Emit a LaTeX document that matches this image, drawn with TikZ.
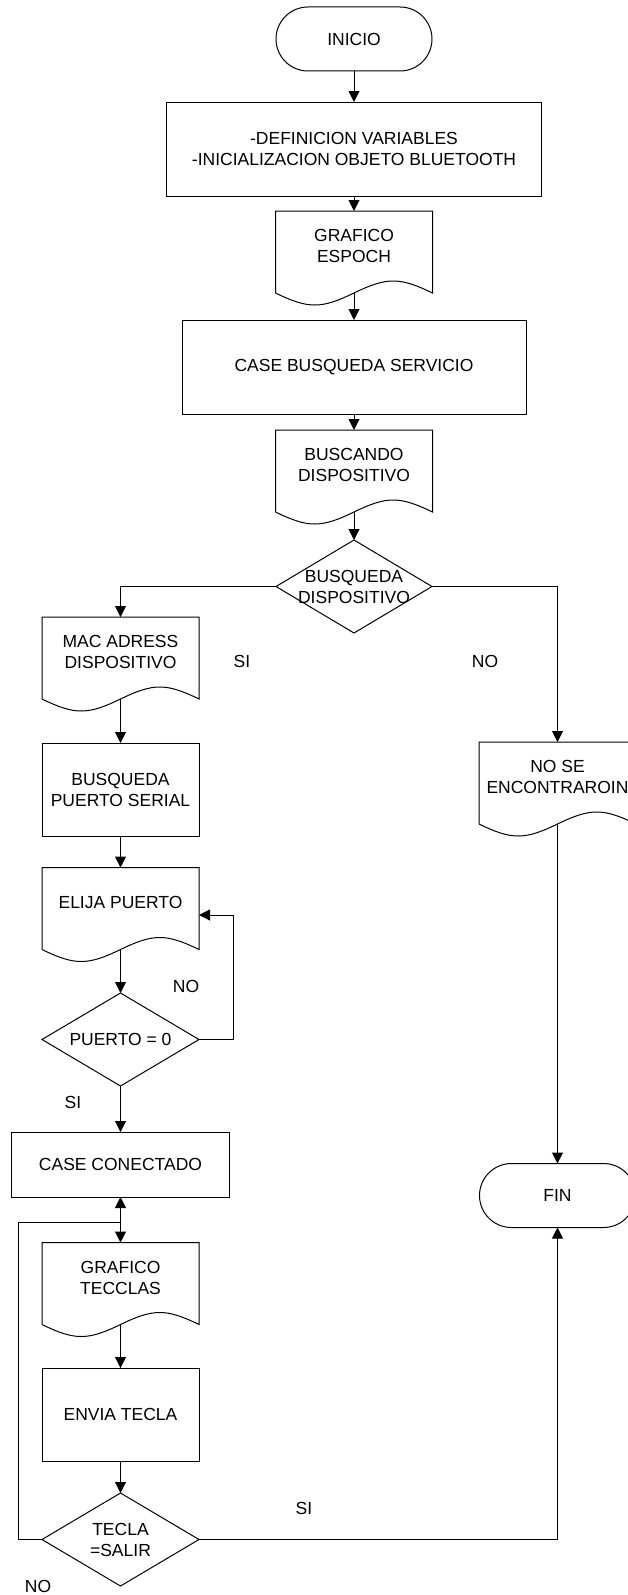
\documentclass[tikz,border=0pt]{standalone}
\usepackage{fontspec}
\setmainfont{Liberation Sans}
\usetikzlibrary{arrows.meta,calc}
\newcommand\docout[1]{\draw (#1.south west) -- (#1.north west) -- (#1.north east) -- (#1.south east) .. controls +(-33,-16) and +(33,-16) .. (#1.south) .. controls +(-33,16) and +(33,16) .. (#1.south west);}
\newcommand\decout[1]{\draw (#1.north) -- (#1.east) -- (#1.south) -- (#1.west) -- cycle;}
\begin{document}
\begin{tikzpicture}[x=1pt,y=-1pt, line width=1pt, line join=miter,
  every node/.style={font=\fontsize{17.5}{21}\selectfont, align=center, outer sep=0pt, inner sep=0pt},
  proc/.style={draw, rectangle},
  docu/.style={rectangle, minimum width=157pt, minimum height=82pt, text depth=12pt},
  term/.style={draw, rectangle, rounded corners=32pt, minimum width=156pt, minimum height=64pt},
  dec/.style={rectangle, minimum width=156pt, minimum height=93pt},
  arr/.style={-{Triangle[width=11pt,length=11pt]}}]
\clip (0,0) rectangle (628,1595);
% main column
\node[term] (inicio) at (354,39) {INICIO};
\node[proc, minimum width=375pt, minimum height=94pt] (defs) at (354,149) {-DEFINICION VARIABLES\\-INICIALIZACION OBJETO BLUETOOTH};
\node[docu] (espoch) at (354,252) {GRAFICO\\ESPOCH};
\node[proc, minimum width=344pt, minimum height=94pt] (busserv) at (354,367) {CASE BUSQUEDA SERVICIO};
\node[docu] (buscando) at (354,471) {BUSCANDO\\DISPOSITIVO};
\node[dec] (busdisp) at (354,586.5) {BUSQUEDA\\DISPOSITIVO};
% left column
\node[docu] (mac) at (120.5,658) {MAC ADRESS\\DISPOSITIVO};
\node[proc, minimum width=157pt, minimum height=93pt] (serial) at (120.5,789.5) {BUSQUEDA\\PUERTO SERIAL};
\node[docu] (elija) at (120.5,908.5) {ELIJA PUERTO};
\node[dec, minimum width=157pt] (puerto) at (120.5,1039.5) {PUERTO = 0};
\node[proc, minimum width=218pt, minimum height=65pt] (conect) at (120.5,1164.5) {CASE CONECTADO};
\node[docu] (tecclas) at (120.5,1283.5) {GRAFICO\\TECCLAS};
\node[proc, minimum width=157pt, minimum height=93pt] (envia) at (120.5,1414.5) {ENVIA TECLA};
\node[dec, minimum width=157pt] (tecla) at (120.5,1539.5) {TECLA\\=SALIR};
% right column
\node[docu] (nose) at (557.5,783) {NO SE\\ENCONTRAROIN};
\node[term] (fin) at (557.5,1195.5) {FIN};
% outlines
\docout{espoch}
\docout{buscando}
\docout{mac}
\docout{elija}
\docout{tecclas}
\docout{nose}
\decout{busdisp}
\decout{puerto}
\decout{tecla}
% labels
\node (si1) at (242,661) {SI};
\node (no1) at (485,661) {NO};
\node (no2) at (186,986) {NO};
\node (si2) at (73,1102) {SI};
\node (si3) at (304,1508) {SI};
\node (no3) at (38,1586) {NO};
% connectors
\draw[arr] (inicio.south) -- (defs.north);
\draw[arr] (defs.south) -- (espoch.north);
\draw[arr] (espoch.south) -- (busserv.north);
\draw[arr] (busserv.south) -- (buscando.north);
\draw[arr] (buscando.south) -- (busdisp.north);
\draw[arr] (busdisp.west) -| (mac.north);
\draw[arr] (busdisp.east) -| (nose.north);
\draw[arr] (mac.south) -- (serial.north);
\draw[arr] (serial.south) -- (elija.north);
\draw[arr] (elija.south) -- (puerto.north);
\draw[arr] (puerto.east) -- ++(34,0) |- ($(elija.east)+(0,6.5)$);
\draw[arr] (puerto.south) -- (conect.north);
\coordinate (j) at (120.5,1222);
\draw[arr] (j) -- (conect.south);
\draw[arr] (j) -- (tecclas.north);
\draw[arr] (tecclas.south) -- (envia.north);
\draw[arr] (envia.south) -- (tecla.north);
\draw (tecla.west) -- ++(-24,0) |- (j);
\draw[arr] (tecla.east) -| (fin.south);
\draw[arr] (nose.south) -- (fin.north);
\end{tikzpicture}
\end{document}
